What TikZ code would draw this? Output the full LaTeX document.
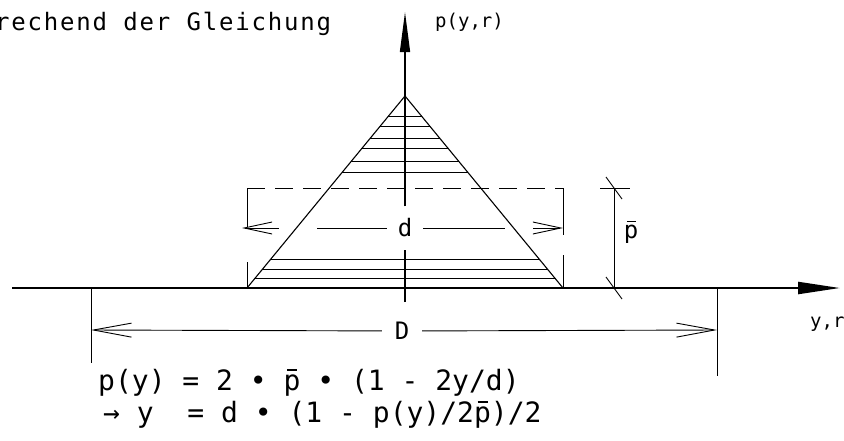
\documentclass[tikz,border=0pt]{standalone}
\usepackage{fontspec}
\setmonofont{DejaVu Sans Mono}
\usetikzlibrary{arrows.meta,calc,positioning}
\newcommand{\pbar}{\makebox[0pt][l]{\kern0.13em\raisebox{0.68em}{\rule{0.36em}{0.06em}}}p}

\begin{document}
\begin{tikzpicture}[
      x=1pt,y=-1pt,
      xaxisline/.style={line width=2.2pt,-{Triangle[length=42pt,width=12pt]}},
      yaxisline/.style={line width=1.5pt},
      loadline/.style={line width=1.1pt},
      hatch/.style={line width=1pt},
      dimline/.style={line width=0.9pt},
      Darrow/.style={line width=0.9pt,-{Straight Barb[length=38pt,width=14pt]}},
      darrow/.style={line width=0.9pt,-{Straight Barb[length=28pt,width=12pt]}},
      meanline/.style={line width=0.9pt,dash pattern=on 18pt off 10pt},
      lbl/.style={inner sep=0pt,anchor=base west,font=\ttfamily\fontsize{19}{22}\selectfont},
      formula/.style={inner sep=0pt,anchor=base west,font=\ttfamily\fontsize{28}{32}\selectfont},
      dimlbl/.style={inner sep=0pt,font=\ttfamily\fontsize{24}{28}\selectfont}
    ]
    \useasboundingbox (0,0) rectangle (844,440);
    \coordinate (xstart) at (12,288);
    \coordinate (xend) at (840,288);
    \coordinate (ybottom) at (405,302);
    \coordinate (yend) at (405,12);
    \coordinate (apex) at (405,96);
    \coordinate (bl) at (247,288);
    \coordinate (br) at (563,288);
    \coordinate (tl) at (247,188);
    \coordinate (tr) at (563,188);
    \coordinate (tlm) at (247,227);
    \coordinate (blm) at (247,262);
    \coordinate (trm) at (563,235);
    \coordinate (brm) at (563,255);
    \coordinate (dl) at (242,228);
    \coordinate (dr) at (563,228);
    \coordinate (Dl) at (91,288);
    \coordinate (Dlb) at (91,363);
    \coordinate (Dla) at (91,330);
    \coordinate (Dr) at (717,288);
    \coordinate (Drb) at (717,376);
    \coordinate (Dra) at (717,330);
    \coordinate (pt) at (614,188);
    \coordinate (pb) at (614,288);
    \node[dimlbl,minimum width=36pt,minimum height=43pt] (dlab) at (405,228) {d};
    \node[dimlbl,minimum width=40pt,minimum height=20pt] (Dlab) at (402,331) {D};
    \node[dimlbl] (pbarlab) at (631,232) {\pbar};
    \node[lbl] (ylab) at (435,27) {p(y,r)};
    \node[lbl] (xlab) at (810,327) {y,r};
    \node[lbl,font=\ttfamily\fontsize{24}{28}\selectfont\addfontfeature{LetterSpace=7.5}] (head) at (-5,30) {rechend der Gleichung};
    \node[formula] (eq1) at (98,390) {p(y) = 2 • \pbar{} • (1 - 2y/d)};
    \node[formula] (eq2) at (103,422) {→ y~ = d • (1 - p(y)/2\pbar)/2};
    \foreach \f in {0.109,0.161,0.219,0.276,0.339,0.401,0.849,0.906,0.953}
      \draw[hatch] ($(apex)!\f!(bl)$) -- ($(apex)!\f!(br)$);
    \draw[loadline] (bl) -- (apex) -- (br);
    \draw[meanline] (tl) -- (tr);
    \draw[dimline] (tl) -- (tlm);
    \draw[dimline] (blm) -- (bl);
    \draw[dimline] (tr) -- (trm);
    \draw[dimline] (brm) -- (br);
    \draw[darrow,dash pattern=on 70pt off 38pt] (dlab) -- (dl);
    \draw[darrow,dash pattern=on 82pt off 28pt] (dlab) -- (dr);
    \draw[xaxisline] (xstart) -- (xend);
    \draw[yaxisline] (ybottom) -- (dlab);
    \draw[yaxisline,-{Triangle[length=40pt,width=10pt]}] (dlab) -- (yend);
    \draw[dimline] (Dl) -- (Dlb);
    \draw[dimline] (Dr) -- (Drb);
    \draw[Darrow] (Dlab) -- (Dla);
    \draw[Darrow] (Dlab) -- (Dra);
    \draw[dimline] (pt) -- (pb);
    \draw[dimline] ($(pt)+(-14,0)$) -- ($(pt)+(16,0)$);
    \draw[dimline] ($(pt)+(-8,-11)$) -- ($(pt)+(8,11)$);
    \draw[dimline] ($(pb)+(-8,-11)$) -- ($(pb)+(8,11)$);
  \end{tikzpicture}
\end{document}
